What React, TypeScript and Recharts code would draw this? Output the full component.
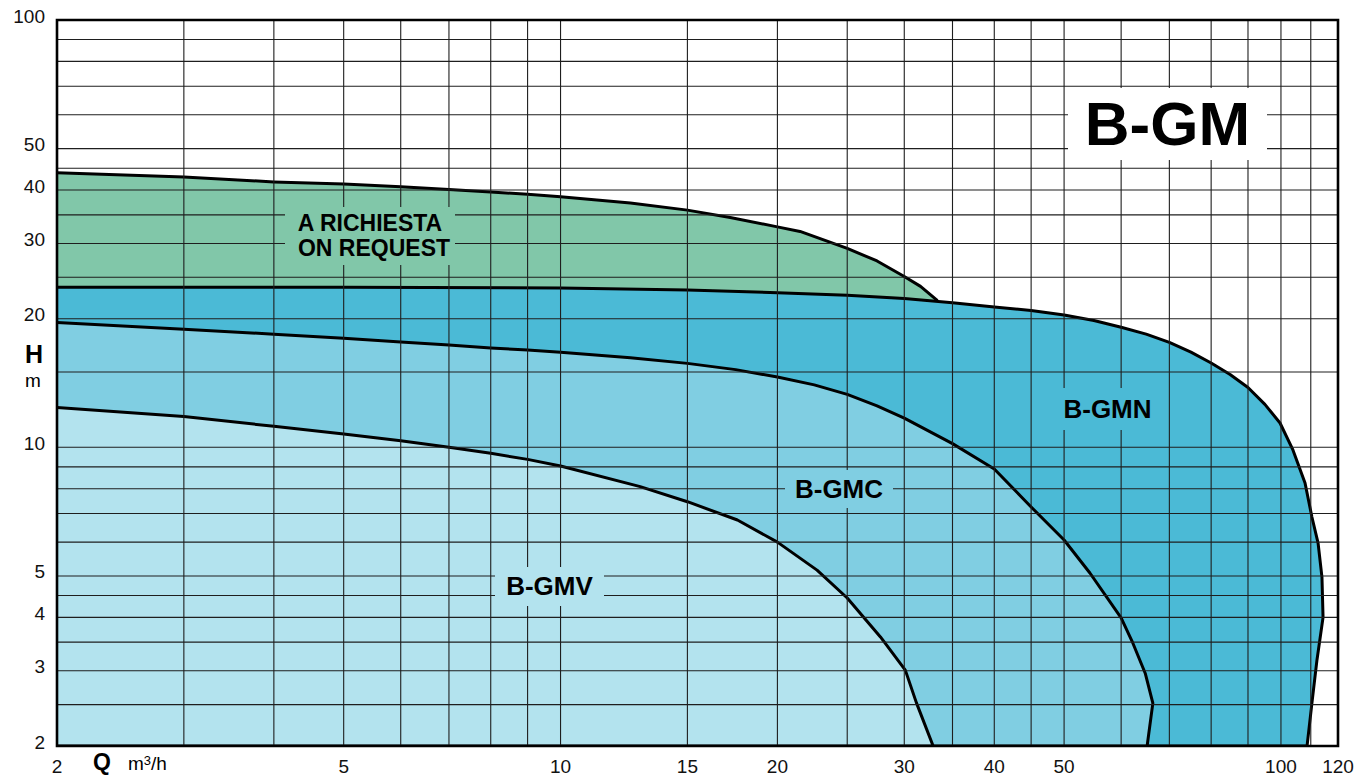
import React from 'react';
import { ComposedChart, Scatter, XAxis, YAxis, CartesianGrid, ReferenceArea } from 'recharts';

const FONT = '"Liberation Sans", Arial, Helvetica, sans-serif';

// grid positions (log paper) and the labelled subset
const qGrid = [2, 3, 4, 5, 6, 7, 8, 9, 10, 15, 20, 25, 30, 35, 40, 45, 50, 60, 70, 80, 90, 100, 110, 120];
const qLabels = [2, 5, 10, 15, 20, 30, 40, 50, 100, 120];
const hGrid = [2, 2.5, 3, 3.5, 4, 4.5, 5, 6, 7, 8, 9, 10, 15, 20, 25, 30, 35, 40, 45, 50, 60, 70, 80, 90, 100];
const hLabels = [2, 3, 4, 5, 10, 20, 30, 40, 50, 100];

// field outlines (Q m3/h, H m), closed back along the bottom axis
const onRequest = [
  { q: 2, h: 43.9 }, { q: 3, h: 42.9 }, { q: 4, h: 41.8 }, { q: 5, h: 41.3 }, { q: 6, h: 40.7 },
  { q: 7, h: 40.1 }, { q: 8, h: 39.6 }, { q: 9, h: 39.1 }, { q: 10, h: 38.6 }, { q: 12.5, h: 37.3 },
  { q: 15, h: 35.9 }, { q: 17.2, h: 34.5 }, { q: 20, h: 32.8 }, { q: 21.5, h: 32.0 }, { q: 25, h: 29.2 },
  { q: 27.5, h: 27.3 }, { q: 30, h: 25.1 }, { q: 31.6, h: 23.8 }, { q: 33.3, h: 22.1 },
  { q: 33.3, h: 2 }, { q: 2, h: 2 },
];

const gmn = [
  { q: 2, h: 23.7 }, { q: 5, h: 23.7 }, { q: 10, h: 23.6 }, { q: 15, h: 23.35 }, { q: 20, h: 23.0 },
  { q: 25, h: 22.7 }, { q: 30, h: 22.3 }, { q: 35, h: 21.8 }, { q: 40, h: 21.3 }, { q: 45, h: 20.9 },
  { q: 50, h: 20.4 }, { q: 55, h: 19.8 }, { q: 60, h: 19.1 }, { q: 65, h: 18.4 }, { q: 70, h: 17.6 },
  { q: 75, h: 16.7 }, { q: 80, h: 15.75 }, { q: 85, h: 14.8 }, { q: 90, h: 13.8 }, { q: 95, h: 12.6 },
  { q: 99.7, h: 11.4 }, { q: 103.9, h: 9.86 }, { q: 108, h: 8.25 }, { q: 110.4, h: 6.87 },
  { q: 112.6, h: 5.97 }, { q: 114, h: 4.97 }, { q: 114.4, h: 4.0 }, { q: 112.2, h: 3.18 },
  { q: 110.4, h: 2.52 }, { q: 108.7, h: 2 }, { q: 2, h: 2 },
];

const gmc = [
  { q: 2, h: 19.6 }, { q: 3, h: 18.9 }, { q: 4, h: 18.4 }, { q: 5, h: 18.0 }, { q: 6, h: 17.64 },
  { q: 7, h: 17.36 }, { q: 8, h: 17.08 }, { q: 9, h: 16.89 }, { q: 10, h: 16.68 }, { q: 12.5, h: 16.2 },
  { q: 15, h: 15.72 }, { q: 17.5, h: 15.2 }, { q: 20, h: 14.6 }, { q: 22.5, h: 14.0 }, { q: 25, h: 13.3 },
  { q: 27.5, h: 12.5 }, { q: 30, h: 11.7 }, { q: 35, h: 10.2 }, { q: 40, h: 8.9 }, { q: 45, h: 7.25 },
  { q: 50, h: 6.07 }, { q: 54.3, h: 5.08 }, { q: 60, h: 3.99 }, { q: 62.3, h: 3.48 },
  { q: 64.8, h: 2.96 }, { q: 66.4, h: 2.52 }, { q: 65.2, h: 2 }, { q: 2, h: 2 },
];

const gmv = [
  { q: 2, h: 12.4 }, { q: 3, h: 11.8 }, { q: 4, h: 11.2 }, { q: 5, h: 10.75 }, { q: 6, h: 10.36 },
  { q: 7, h: 10.0 }, { q: 8, h: 9.68 }, { q: 9, h: 9.37 }, { q: 10, h: 9.04 }, { q: 12.9, h: 8.09 },
  { q: 15, h: 7.46 }, { q: 17.6, h: 6.76 }, { q: 20, h: 6.0 }, { q: 22.7, h: 5.16 }, { q: 25, h: 4.44 },
  { q: 27.8, h: 3.6 }, { q: 30.1, h: 3.01 }, { q: 31.2, h: 2.52 }, { q: 32.9, h: 2 }, { q: 2, h: 2 },
];

const GREEN = '#81c7a9';
const GMN_BLUE = '#4bbad6';
const GMC_BLUE = '#80cee2';
const GMV_BLUE = '#b3e3ee';

const noDot = () => <g />;

const YTick = ({ x, y, payload }: any) =>
  hLabels.includes(payload.value) ? (
    <text x={x} y={y - 4} textAnchor="end" dominantBaseline="central" fontSize={19} fontFamily={FONT} fill="#111">
      {payload.value}
    </text>
  ) : (
    <g />
  );

const XTick = ({ x, y, payload }: any) =>
  qLabels.includes(payload.value) ? (
    <text x={x} y={y + 20} textAnchor="middle" dominantBaseline="central" fontSize={19} fontFamily={FONT} fill="#111">
      {payload.value}
    </text>
  ) : (
    <g />
  );

const Tag = ({ left, top, width, height, bg, size, children }: any) => (
  <div
    style={{
      position: 'absolute', left, top, width, height, background: bg,
      display: 'flex', flexDirection: 'column', alignItems: 'center', justifyContent: 'center',
      fontFamily: FONT, fontWeight: 'bold', fontSize: size, lineHeight: 1.08, color: '#000',
    }}
  >
    {children}
  </div>
);

export default function App() {
  return (
    <div style={{ position: 'absolute', left: 0, top: 0, width: 1372, height: 778, background: '#fff', overflow: 'hidden' }}>
      <ComposedChart width={1372} height={778} margin={{ top: 20, right: 34, bottom: 0, left: 0 }}>
        <XAxis
          type="number" dataKey="q" scale="log" domain={[2, 120]} allowDataOverflow
          ticks={qGrid} interval={0} tick={<XTick />} tickSize={0} tickMargin={0}
          axisLine={false} tickLine={false} height={32}
        />
        <YAxis
          type="number" dataKey="h" scale="log" domain={[2, 100]} allowDataOverflow
          ticks={hGrid} interval={0} tick={<YTick />} tickSize={0} tickMargin={12}
          axisLine={false} tickLine={false} width={57}
        />
        <Scatter data={onRequest} shape={noDot} isAnimationActive={false}
          line={{ fill: GREEN, stroke: '#000', strokeWidth: 3, strokeLinejoin: 'round' }} />
        <Scatter data={gmn} shape={noDot} isAnimationActive={false}
          line={{ fill: GMN_BLUE, stroke: '#000', strokeWidth: 3, strokeLinejoin: 'round' }} />
        <Scatter data={gmc} shape={noDot} isAnimationActive={false}
          line={{ fill: GMC_BLUE, stroke: '#000', strokeWidth: 3, strokeLinejoin: 'round' }} />
        <Scatter data={gmv} shape={noDot} isAnimationActive={false}
          line={{ fill: GMV_BLUE, stroke: '#000', strokeWidth: 3, strokeLinejoin: 'round' }} />
        <CartesianGrid stroke="#1e1e1e" strokeWidth={1.1} zIndex={700} />
        <ReferenceArea x1={2} x2={120} y1={2} y2={100} fill="none" stroke="#000" strokeWidth={2.6}
          fillOpacity={0} zIndex={800} />
      </ComposedChart>

      <Tag left={1068} top={88} width={199} height={72} bg="#fff" size={62}>B-GM</Tag>
      <Tag left={285} top={207} width={170} height={58} bg={GREEN} size={23}>
        <span>A RICHIESTA</span>
        <span style={{ marginLeft: 8 }}>ON REQUEST</span>
      </Tag>
      <Tag left={1055} top={388} width={105} height={42} bg={GMN_BLUE} size={26}>B-GMN</Tag>
      <Tag left={785} top={470} width={108} height={38} bg={GMC_BLUE} size={26}>B-GMC</Tag>
      <Tag left={495} top={567} width={109} height={39} bg={GMV_BLUE} size={26}>B-GMV</Tag>

      <div style={{ position: 'absolute', left: 25, top: 340, fontFamily: FONT, fontWeight: 'bold', fontSize: 25 }}>H</div>
      <div style={{ position: 'absolute', left: 25, top: 370, fontFamily: FONT, fontSize: 19 }}>m</div>
      <div style={{ position: 'absolute', left: 93, top: 749, fontFamily: FONT, fontWeight: 'bold', fontSize: 23, lineHeight: '26px' }}>Q</div>
      <div style={{ position: 'absolute', left: 128, top: 753, fontFamily: FONT, fontSize: 19, lineHeight: '22px' }}>
        m<sup style={{ fontSize: 13, verticalAlign: 'top', position: 'relative', top: -3 }}>3</sup>/h
      </div>
    </div>
  );
}
